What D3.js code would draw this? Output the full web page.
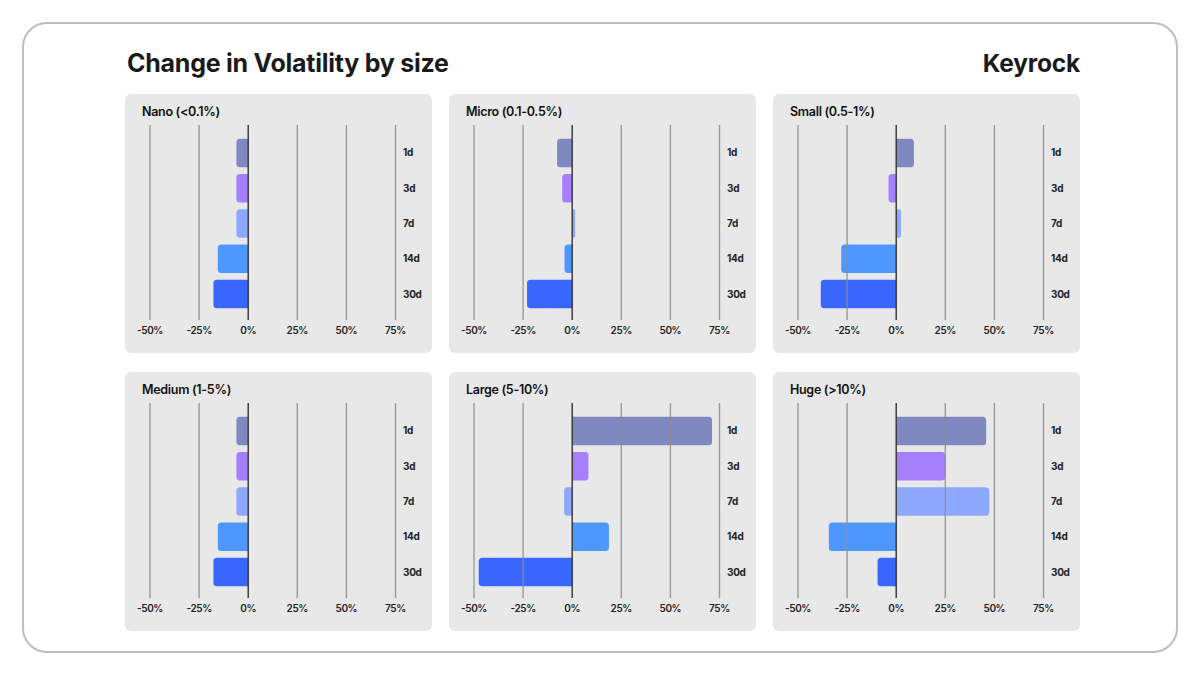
<!DOCTYPE html>
<html>
<head>
<meta charset="utf-8">
<script src="https://cdn.jsdelivr.net/npm/d3@7"></script>
<style>
  body { margin: 0; background: #fff; }
  svg { display: block; font-family: Inter, "Noto Sans", sans-serif; }
</style>
</head>
<body>
<div id="figure"></div>
<script>
// data (change in %)
var periods = ["1d", "3d", "7d", "14d", "30d"];
var panelNames = ["Nano (<0.1%)", "Micro (0.1-0.5%)", "Small (0.5-1%)",
                  "Medium (1-5%)", "Large (5-10%)", "Huge (>10%)"];
var nano   = [-6, -6, -6, -15.5, -17.7];
var micro  = [-7.7, -5.1, 1.5, -3.9, -23];
var small  = [9, -3.9, 2.4, -28, -38.4];
var medium = [-6, -6, -6, -15.5, -17.7];
var large  = [71.2, 8.3, -4.1, 18.7, -47.6];
var huge   = [45.8, 25, 47.4, -34.3, -9.5];
var tickValues = [-50, -25, 0, 25, 50, 75];
var colors = ["#8088c2", "#a57ffc", "#8fa8ff", "#4d97ff", "#3866ff"];

var series = [nano, micro, small, medium, large, huge];

var W = 1200, H = 675;
var panelW = 307, panelH = 259;
var colX = [125, 449, 773], rowY = [94, 372];

var svg = d3.select("#figure").append("svg")
  .attr("width", W).attr("height", H);

// outer frame
svg.append("rect")
  .attr("x", 23).attr("y", 23)
  .attr("width", 1154).attr("height", 629)
  .attr("rx", 24)
  .attr("fill", "#fff")
  .attr("stroke", "#bdbdbd")
  .attr("stroke-width", 2);

svg.append("text")
  .attr("x", 127).attr("y", 72)
  .attr("font-size", 25)
  .attr("font-weight", 700)
  .attr("letter-spacing", -0.25)
  .attr("fill", "#1a1a1a")
  .text("Change in Volatility by size");

svg.append("text")
  .attr("x", 1080).attr("y", 72)
  .attr("text-anchor", "end")
  .attr("font-size", 24.5)
  .attr("font-weight", 700)
  .attr("letter-spacing", -0.2)
  .attr("fill", "#1a1a1a")
  .text("Keyrock");

var x = d3.scaleLinear().domain([-50, 75]).range([25, 270.5]);
var y = d3.scaleBand().domain(periods).range([41, 218])
  .paddingInner(0.19).paddingOuter(0.105);

// bar with rounded corners on the far end only
function barPath(v, cat) {
  var x0 = x(0), x1 = x(v), y0 = y(cat), h = y.bandwidth();
  var r = Math.min(3.5, Math.abs(x1 - x0) / 2);
  var s = x1 >= x0 ? 1 : -1;
  var p = d3.path();
  p.moveTo(x0, y0);
  p.lineTo(x1 - s * r, y0);
  p.quadraticCurveTo(x1, y0, x1, y0 + r);
  p.lineTo(x1, y0 + h - r);
  p.quadraticCurveTo(x1, y0 + h, x1 - s * r, y0 + h);
  p.lineTo(x0, y0 + h);
  p.closePath();
  return p.toString();
}

series.forEach(function(vals, i) {
  var g = svg.append("g")
    .attr("transform", "translate(" + colX[i % 3] + "," + rowY[Math.floor(i / 3)] + ")");

  g.append("rect")
    .attr("width", panelW).attr("height", panelH)
    .attr("rx", 6)
    .attr("fill", "#e8e8e8");

  g.append("text")
    .attr("x", 17).attr("y", 22)
    .attr("font-size", 12.5)
    .attr("font-weight", 600)
    .attr("letter-spacing", -0.3)
    .attr("fill", "#111")
    .text(panelNames[i]);

  g.selectAll("path.bar")
    .data(vals)
    .enter()
    .append("path")
    .attr("class", "bar")
    .attr("d", function(d, j) { return barPath(d, periods[j]); })
    .attr("fill", function(d, j) { return colors[j]; });

  g.selectAll("line.grid")
    .data(tickValues)
    .enter()
    .append("line")
    .attr("class", "grid")
    .attr("x1", function(d) { return x(d); })
    .attr("x2", function(d) { return x(d); })
    .attr("y1", 31).attr("y2", 226)
    .attr("stroke", function(d) { return d === 0 ? "#333" : "#8c8c8c"; })
    .attr("stroke-opacity", function(d) { return d === 0 ? 1 : 0.85; })
    .attr("stroke-width", 1.4);

  g.selectAll("text.tick")
    .data(tickValues)
    .enter()
    .append("text")
    .attr("class", "tick")
    .attr("x", function(d) { return x(d); })
    .attr("y", 240)
    .attr("text-anchor", "middle")
    .attr("font-size", 10)
    .attr("font-weight", 600)
    .attr("letter-spacing", -0.4)
    .attr("fill", "#222")
    .text(function(d) { return d + "%"; });

  g.selectAll("text.cat")
    .data(periods)
    .enter()
    .append("text")
    .attr("class", "cat")
    .attr("x", 278)
    .attr("y", function(d) { return y(d) + y.bandwidth() / 2 + 3.5; })
    .attr("font-size", 10)
    .attr("font-weight", 700)
    .attr("letter-spacing", -0.3)
    .attr("fill", "#222")
    .text(function(d) { return d; });
});
</script>
</body>
</html>
